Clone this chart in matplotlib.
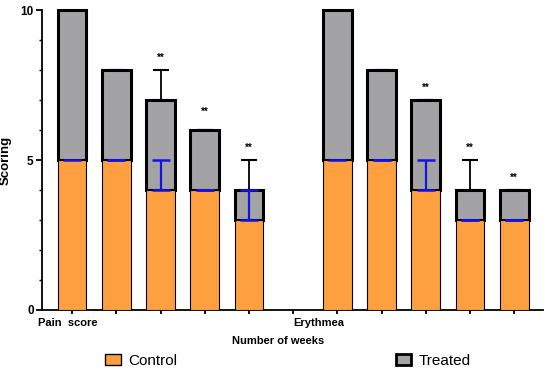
import numpy as np
import matplotlib.pyplot as plt
from matplotlib.patches import Patch
from matplotlib.ticker import MultipleLocator

plt.rcParams['font.family'] = ['Liberation Sans', 'DejaVu Sans']

# ======== DATA ========
groups = ["Pain  score", "Erythmea"]
control = [5, 5, 4, 4, 3, 5, 5, 4, 3, 3]
treated = [5, 3, 3, 2, 1, 5, 3, 3, 1, 1]          # stacked on control
control_err = [np.nan, 0, 1, 0, 1, np.nan, 0, 1, 0, 0]
total_err = [0, 0, 1, 0, 1, 0, 0, 0, 1, 0]
stars = ["", "", "**", "**", "**", "", "", "**", "**", "**"]
star_y = [0, 0, 8.4, 6.6, 5.4, 0, 0, 7.4, 5.4, 4.4]

orange = "#FFA040"
gray = "#A3A3A6"
blue = "#1414E0"

# posicoes: 5 barras, um espaco vazio, 5 barras
x = np.array([0, 1, 2, 3, 4, 6, 7, 8, 9, 10])
control = np.array(control)
treated = np.array(treated)
total = control + treated

fig = plt.figure(figsize=(5.5, 3.72), dpi=100)
ax = fig.add_axes([42/550, 1 - 310/372, 501/550, 300/372])

w = 0.65
ax.bar(x, treated, w, bottom=control, color=gray, edgecolor="black", linewidth=2.2,
       zorder=2, clip_on=False)
ax.bar(x, control, w, color=orange, edgecolor="black", linewidth=0.8, zorder=3)

ax.errorbar(x, total, yerr=[np.zeros(len(x)), total_err], fmt="none",
            ecolor="black", elinewidth=1.3, capsize=5.5, capthick=1.5, zorder=4)
ax.errorbar(x, control, yerr=[np.zeros(len(x)), control_err], fmt="none",
            ecolor=blue, elinewidth=1.6, capsize=6.5, capthick=1.8, zorder=5)

for xi, s, yi in zip(x, stars, star_y):
    if s:
        ax.text(xi, yi, s, ha="center", va="center", fontsize=7, fontweight="bold")

# eixos
ax.set_xlim(-0.68, 10.65)
ax.set_ylim(0, 10)
ax.set_yticks([0, 5, 10])
ax.yaxis.set_minor_locator(MultipleLocator(1))
ax.tick_params(axis="y", which="major", length=4, width=1.3, labelsize=8.5, pad=2)
ax.tick_params(axis="y", which="minor", length=2, width=1.0)
for lab in ax.get_yticklabels():
    lab.set_fontweight("bold")
ax.set_xticks(np.arange(0, 11))
ax.set_xticklabels([])
ax.tick_params(axis="x", length=3, width=1.3)
for sp in ["top", "right"]:
    ax.spines[sp].set_visible(False)
for sp in ["left", "bottom"]:
    ax.spines[sp].set_linewidth(1.3)

for gx, g in zip([-0.1, 5.58], groups):
    ax.text(gx, -0.43, g, ha="center", va="center", fontsize=8, fontweight="bold")

ax.set_ylabel("Scoring", fontsize=9.5, fontweight="bold", labelpad=6)
fig.text(278/550, 1 - 341/372, "Number of weeks", ha="center", va="center",
         fontsize=8, fontweight="bold")

handles = [Patch(facecolor=orange, edgecolor="black", linewidth=1.0, label="Control"),
           Patch(facecolor=gray, edgecolor="black", linewidth=2.0, label="Treated")]
fig.legend(handles=handles, loc="center", bbox_to_anchor=(288/550, 1 - 361/372),
           ncol=2, frameon=False, fontsize=11, handlelength=1.0, handleheight=0.7,
           handletextpad=0.5, columnspacing=14.3, borderpad=0)

fig.savefig("out.png", dpi=100)
